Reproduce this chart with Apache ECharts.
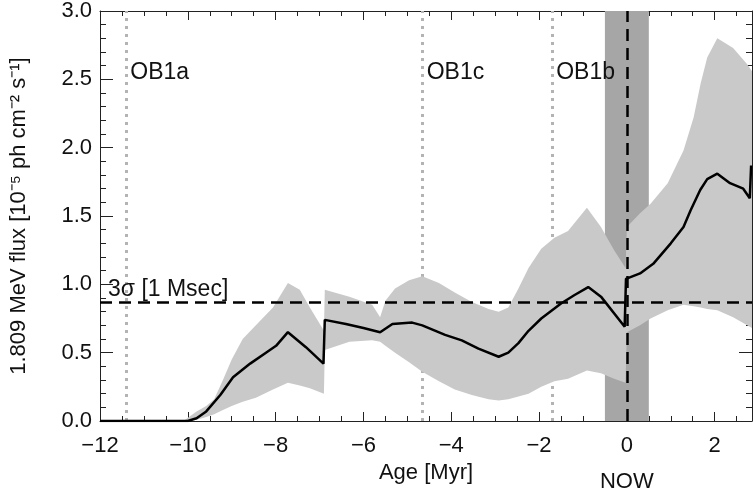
<!DOCTYPE html>
<html>
<head>
<meta charset="utf-8">
<script src="https://cdn.jsdelivr.net/npm/echarts@6/dist/echarts.min.js"></script>
<style>
html, body { margin: 0; padding: 0; background: #fff; }
#chart { width: 754px; height: 495px; }
</style>
</head>
<body>
<div id="chart"></div>
<script>
// uncertainty band (shared ages for the lower / upper edge)
var bandAge = [-10.1, -9.8, -9.58, -9.4, -9.2, -9.0, -8.75, -8.45, -8.06, -7.72, -7.45, -7.22, -6.9, -6.88,
  -6.32, -5.8, -5.62, -5.5, -5.28, -4.96, -4.66, -4.28, -3.92, -3.53, -3.15, -2.92, -2.7, -2.47, -2.24,
  -1.95, -1.65, -1.34, -0.91, -0.59, -0.29, -0.03, 0.0, 0.3, 0.54, 0.93, 1.29, 1.52, 1.68, 1.83, 2.06,
  2.42, 2.74, 2.85]
var bandLow = [0, 0.01, 0.03, 0.05, 0.08, 0.11, 0.14, 0.17, 0.23, 0.28, 0.26, 0.24, 0.20, 0.52,
  0.58, 0.59, 0.58, 0.55, 0.50, 0.43, 0.36, 0.29, 0.23, 0.19, 0.16, 0.15, 0.16, 0.18, 0.20,
  0.25, 0.29, 0.31, 0.37, 0.35, 0.31, 0.28, 0.65, 0.70, 0.75, 0.81, 0.85, 0.84, 0.83, 0.82, 0.81,
  0.76, 0.70, 0.68]
var bandHigh = [0, 0.07, 0.11, 0.16, 0.30, 0.45, 0.60, 0.70, 0.83, 1.01, 0.96, 0.83, 0.66, 0.96,
  0.91, 0.85, 0.76, 0.88, 0.97, 1.03, 1.06, 1.01, 0.94, 0.87, 0.82, 0.80, 0.83, 0.97, 1.12,
  1.26, 1.34, 1.39, 1.56, 1.42, 1.25, 1.12, 1.42, 1.52, 1.59, 1.74, 1.98, 2.22, 2.47, 2.66, 2.80,
  2.73, 2.61, 2.56]

// mean flux curve
var lineAge = [-12, -10.0, -9.8, -9.58, -9.26, -8.97, -8.58, -8.22, -7.99, -7.72, -7.31, -6.91, -6.88,
  -6.4, -6.0, -5.62, -5.34, -4.89, -4.66, -4.14, -3.76, -3.38, -2.92, -2.7, -2.47, -2.24, -1.95,
  -1.5, -1.2, -0.88, -0.59, -0.05, -0.02, 0.3, 0.6, 1.0, 1.29, 1.45, 1.67, 1.83, 2.06, 2.35, 2.65,
  2.8, 2.83]
var lineFlux = [0, 0, 0.02, 0.07, 0.19, 0.32, 0.42, 0.50, 0.55, 0.65, 0.54, 0.42, 0.74,
  0.71, 0.68, 0.65, 0.71, 0.72, 0.70, 0.63, 0.59, 0.53, 0.47, 0.50, 0.57, 0.66, 0.75,
  0.86, 0.92, 0.98, 0.91, 0.69, 1.04, 1.08, 1.15, 1.30, 1.42, 1.54, 1.69, 1.77, 1.81, 1.74, 1.70,
  1.63, 1.87]

// subgroups of the association
var groupNames = ['OB1a', 'OB1c', 'OB1b']
var groupAge = [-11.4, -4.65, -1.7]
var groupLabelY = 2.55

var nowRange = [-0.5, 0.5]
var sensitivity = 0.87

var font = "'Liberation Sans', Arial, Helvetica, sans-serif"
var chart = echarts.init(document.getElementById('chart'))

var bandData = bandAge.map(function (x, i) { return [x, bandLow[i], bandHigh[i]] })
var lineData = lineAge.map(function (x, i) { return [x, lineFlux[i]] })
var labelData = groupAge.map(function (x, i) { return { value: [x, groupLabelY], name: groupNames[i] } })

function minus (v) {
  return String(v).replace('-', '\u2212')
}

// whole band as one polygon: upper edge left->right, lower edge back
function renderBand (params, api) {
  if (params.dataIndex !== 0) return
  var pts = []
  bandData.forEach(function (d) { pts.push(api.coord([d[0], d[2]])) })
  for (var i = bandData.length - 1; i >= 0; i--) {
    pts.push(api.coord([bandData[i][0], bandData[i][1]]))
  }
  return {
    type: 'polygon',
    shape: { points: pts },
    style: { fill: '#c9c9c9', stroke: null }
  }
}

var xCommon = {
  type: 'value',
  min: -12,
  max: 2.85,
  interval: 2,
  axisLine: { show: true, onZero: false, lineStyle: { color: '#222', width: 1 } },
  axisTick: { show: true, inside: true, length: 9, lineStyle: { color: '#222' } },
  minorTick: { show: true, splitNumber: 4, length: 5, lineStyle: { color: '#222' } },
  splitLine: { show: false }
}
var yCommon = {
  type: 'value',
  min: 0,
  max: 3,
  interval: 0.5,
  axisLine: { show: true, onZero: false, lineStyle: { color: '#222', width: 1 } },
  axisTick: { show: true, inside: true, length: 13, lineStyle: { color: '#222' } },
  minorTick: { show: true, splitNumber: 5, length: 6, lineStyle: { color: '#222' } },
  splitLine: { show: false }
}

var option = {
  animation: false,
  backgroundColor: '#fff',
  textStyle: { fontFamily: font },
  grid: { left: 96, right: 2, top: 10, bottom: 74, containLabel: false },
  xAxis: [
    Object.assign({}, xCommon, {
      position: 'bottom',
      name: 'Age [Myr]',
      nameLocation: 'middle',
      nameGap: 35,
      nameTextStyle: { color: '#111', fontSize: 22, fontFamily: font },
      axisLabel: {
        color: '#111', fontSize: 22, fontFamily: font, margin: 14,
        showMaxLabel: false,
        formatter: function (v) { return minus(v) }
      }
    }),
    Object.assign({}, xCommon, { position: 'top', axisLabel: { show: false } })
  ],
  yAxis: [
    Object.assign({}, yCommon, {
      position: 'left',
      name: '1.809 MeV flux [10\u207B\u2075 ph cm\u207B\u00B2 s\u207B\u00B9]',
      nameLocation: 'middle',
      nameGap: 70,
      nameTextStyle: { color: '#111', fontSize: 22, fontFamily: font },
      axisLabel: {
        color: '#111', fontSize: 22, fontFamily: font, margin: 8,
        formatter: function (v) { return v.toFixed(1) }
      }
    }),
    Object.assign({}, yCommon, { position: 'right', axisLabel: { show: false } })
  ],
  series: [
    {
      name: 'marks',
      type: 'line',
      data: [[-12, 0]],
      showSymbol: false,
      silent: true,
      lineStyle: { opacity: 0 },
      z: 1,
      markArea: {
        silent: true,
        itemStyle: { color: '#a6a6a6' },
        data: [[{ xAxis: nowRange[0] }, { xAxis: nowRange[1] }]]
      },
      markLine: {
        silent: true,
        z: 1,
        symbol: 'none',
        label: { show: false },
        lineStyle: { color: '#b3b3b3', width: 3, type: [3, 5] },
        data: groupAge.map(function (x) { return { xAxis: x } })
      }
    },
    {
      name: 'band',
      type: 'custom',
      data: bandData,
      renderItem: renderBand,
      encode: { x: 0, y: [1, 2] },
      silent: true,
      z: 3
    },
    {
      name: 'flux',
      type: 'line',
      data: lineData,
      showSymbol: false,
      silent: true,
      lineStyle: { color: '#000', width: 2.5 },
      z: 4,
      markLine: {
        silent: true,
        symbol: 'none',
        lineStyle: { color: '#000', width: 2.5, type: [12, 7] },
        data: [
          {
            yAxis: sensitivity,
            label: {
              show: true,
              position: 'insideStartTop',
              distance: [8, 1],
              formatter: '3\u03C3 [1 Msec]',
              color: '#111',
              fontSize: 23,
              fontFamily: font
            }
          },
          {
            xAxis: 0,
            label: {
              show: true,
              position: 'start',
              distance: 50,
              formatter: 'NOW',
              color: '#111',
              fontSize: 22,
              fontFamily: font
            }
          }
        ]
      }
    },
    {
      name: 'groups',
      type: 'scatter',
      data: labelData,
      symbolSize: 0,
      silent: true,
      itemStyle: { opacity: 1 },
      z: 5,
      label: {
        show: true,
        position: 'right',
        distance: 4,
        formatter: '{b}',
        color: '#111',
        fontSize: 23,
        fontFamily: font
      }
    }
  ]
}

chart.setOption(option)
</script>
</body>
</html>
